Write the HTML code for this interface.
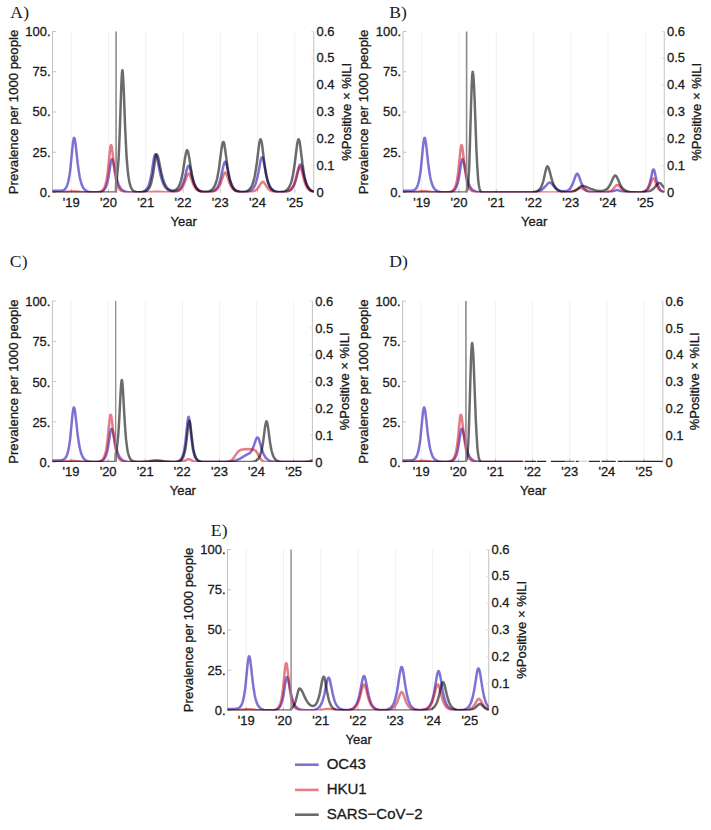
<!DOCTYPE html>
<html><head><meta charset="utf-8"><title>Figure</title>
<style>html,body{margin:0;padding:0;background:#fff;} svg{display:block;}</style>
</head><body>
<svg width="711" height="830" viewBox="0 0 711 830">
<rect width="711" height="830" fill="#fff"/>
<g transform="translate(0,0)">
<clipPath id="clipA"><rect x="52.5" y="31.5" width="261.25" height="161.0"/></clipPath>
<line x1="71.20" y1="31.5" x2="71.20" y2="192.5" stroke="#f1f1f1" stroke-width="1"/>
<line x1="108.48" y1="31.5" x2="108.48" y2="192.5" stroke="#f1f1f1" stroke-width="1"/>
<line x1="145.76" y1="31.5" x2="145.76" y2="192.5" stroke="#f1f1f1" stroke-width="1"/>
<line x1="183.04" y1="31.5" x2="183.04" y2="192.5" stroke="#f1f1f1" stroke-width="1"/>
<line x1="220.32" y1="31.5" x2="220.32" y2="192.5" stroke="#f1f1f1" stroke-width="1"/>
<line x1="257.60" y1="31.5" x2="257.60" y2="192.5" stroke="#f1f1f1" stroke-width="1"/>
<line x1="294.88" y1="31.5" x2="294.88" y2="192.5" stroke="#f1f1f1" stroke-width="1"/>
<line x1="52.5" y1="31.5" x2="52.5" y2="192.5" stroke="#c2c2c2" stroke-width="1"/>
<line x1="313.75" y1="31.5" x2="313.75" y2="192.5" stroke="#c2c2c2" stroke-width="1"/>
<line x1="52.5" y1="192.50" x2="56.0" y2="192.50" stroke="#c2c2c2" stroke-width="1"/>
<line x1="52.5" y1="152.25" x2="56.0" y2="152.25" stroke="#c2c2c2" stroke-width="1"/>
<line x1="52.5" y1="112.00" x2="56.0" y2="112.00" stroke="#c2c2c2" stroke-width="1"/>
<line x1="52.5" y1="71.75" x2="56.0" y2="71.75" stroke="#c2c2c2" stroke-width="1"/>
<line x1="52.5" y1="31.50" x2="56.0" y2="31.50" stroke="#c2c2c2" stroke-width="1"/>
<line x1="311.25" y1="192.50" x2="313.75" y2="192.50" stroke="#dedede" stroke-width="1"/>
<line x1="311.25" y1="165.67" x2="313.75" y2="165.67" stroke="#dedede" stroke-width="1"/>
<line x1="311.25" y1="138.83" x2="313.75" y2="138.83" stroke="#dedede" stroke-width="1"/>
<line x1="311.25" y1="112.00" x2="313.75" y2="112.00" stroke="#dedede" stroke-width="1"/>
<line x1="311.25" y1="85.17" x2="313.75" y2="85.17" stroke="#dedede" stroke-width="1"/>
<line x1="311.25" y1="58.33" x2="313.75" y2="58.33" stroke="#dedede" stroke-width="1"/>
<line x1="311.25" y1="31.50" x2="313.75" y2="31.50" stroke="#dedede" stroke-width="1"/>
<line x1="71.20" y1="192.5" x2="71.20" y2="189.0" stroke="#c2c2c2" stroke-width="1"/>
<line x1="108.48" y1="192.5" x2="108.48" y2="189.0" stroke="#c2c2c2" stroke-width="1"/>
<line x1="145.76" y1="192.5" x2="145.76" y2="189.0" stroke="#c2c2c2" stroke-width="1"/>
<line x1="183.04" y1="192.5" x2="183.04" y2="189.0" stroke="#c2c2c2" stroke-width="1"/>
<line x1="220.32" y1="192.5" x2="220.32" y2="189.0" stroke="#c2c2c2" stroke-width="1"/>
<line x1="257.60" y1="192.5" x2="257.60" y2="189.0" stroke="#c2c2c2" stroke-width="1"/>
<line x1="294.88" y1="192.5" x2="294.88" y2="189.0" stroke="#c2c2c2" stroke-width="1"/>
<g clip-path="url(#clipA)" fill="none" stroke-width="2.5" stroke-linejoin="round" stroke-linecap="butt">
<path d="M50.7,190.9 59.8,190.7 61.5,190.6 62.8,190.4 63.9,189.9 64.5,189.5 65.1,189.0 65.6,188.3 66.0,187.8 66.8,186.3 67.5,184.3 68.3,181.6 69.0,177.9 69.6,174.5 70.2,170.3 70.7,165.4 72.4,147.9 73.0,142.6 73.6,139.0 73.8,138.3 74.0,137.9 74.1,137.8 74.3,138.0 74.7,139.0 75.3,142.0 76.0,147.9 77.7,163.5 78.5,169.4 79.1,173.2 79.6,176.5 80.2,179.2 80.8,181.5 81.5,184.0 82.3,185.9 83.0,187.4 84.0,188.8 84.9,189.8 86.1,190.7 87.4,191.4 88.9,191.8 91.2,192.2 94.0,192.3 97.2,192.3 99.7,192.1 101.4,191.6 102.7,191.0 103.3,190.6 103.8,190.1 104.8,189.0 105.5,187.7 106.3,186.0 107.0,183.7 107.6,181.5 108.2,178.8 108.7,175.7 110.8,162.2 111.4,159.9 111.6,159.4 111.8,159.2 112.0,159.1 112.1,159.2 112.5,159.7 112.9,160.7 113.3,162.0 114.0,165.4 116.1,175.9 116.9,179.1 117.6,181.8 118.6,184.5 119.5,186.5 120.5,188.0 121.6,189.4 122.4,190.0 123.1,190.5 123.9,191.0 124.8,191.4 125.9,191.7 127.1,191.9 129.9,192.3 132.4,192.4 135.0,192.4 137.5,192.3 139.6,192.2 141.1,192.0 142.4,191.7 143.5,191.3 144.5,190.9 145.2,190.4 146.0,189.7 146.7,188.9 147.3,188.1 147.9,187.1 148.4,185.9 149.0,184.4 149.6,182.7 150.5,178.9 151.3,175.1 152.0,170.6 153.5,160.5 154.1,157.3 154.7,155.1 155.1,154.4 155.2,154.3 155.4,154.3 155.6,154.4 156.0,155.0 156.4,155.9 156.8,157.1 157.5,160.3 159.6,170.7 160.7,175.7 161.9,179.8 162.4,181.5 163.2,183.5 163.9,185.1 164.7,186.4 165.5,187.5 166.4,188.6 167.3,189.4 168.5,190.2 169.6,190.7 170.9,191.2 172.5,191.4 174.0,191.5 175.5,191.3 176.8,191.0 177.9,190.5 179.1,189.8 180.0,188.9 181.0,187.7 181.7,186.5 182.5,184.9 183.2,183.0 183.8,181.3 184.7,178.0 186.6,170.3 187.4,167.6 187.8,166.7 188.1,166.0 188.5,165.7 188.7,165.7 188.9,165.8 189.3,166.2 189.7,167.0 190.0,168.1 190.8,170.9 192.7,178.6 193.4,181.3 194.2,183.5 195.0,185.3 195.7,186.8 196.7,188.3 197.6,189.3 198.2,189.8 198.9,190.4 199.7,190.8 200.4,191.2 201.4,191.5 202.3,191.7 204.4,192.0 207.2,192.1 209.9,191.9 211.0,191.7 212.2,191.5 213.1,191.1 213.9,190.7 214.6,190.3 215.4,189.7 216.1,188.9 216.7,188.3 217.3,187.4 217.8,186.5 218.4,185.3 219.0,184.0 219.9,181.2 220.9,177.7 221.6,174.4 223.1,167.1 223.9,164.1 224.3,162.9 224.6,162.1 225.0,161.7 225.2,161.7 225.4,161.7 225.8,162.2 226.1,163.1 226.5,164.3 227.3,167.5 229.4,177.2 230.1,180.1 230.7,182.0 231.4,184.1 232.2,185.9 233.0,187.2 233.9,188.6 235.0,189.8 236.4,190.7 237.9,191.3 239.8,191.8 242.2,192.1 244.9,192.1 246.2,191.9 247.3,191.8 248.3,191.6 249.2,191.2 250.2,190.8 251.1,190.3 252.0,189.5 252.8,188.7 253.6,187.7 254.1,186.8 254.9,185.3 255.5,183.9 256.0,182.3 256.6,180.4 257.5,176.6 258.5,171.9 260.2,162.7 260.7,160.1 261.1,158.7 261.5,157.7 261.9,157.2 262.1,157.2 262.3,157.2 262.6,157.7 263.0,158.7 263.4,160.0 264.1,163.6 265.7,171.9 266.4,175.6 267.4,179.6 268.3,182.8 268.9,184.3 269.4,185.7 270.0,186.8 270.6,187.7 271.1,188.5 271.9,189.3 272.5,189.8 273.2,190.4 274.0,190.8 274.9,191.3 276.1,191.6 277.2,191.9 278.5,192.1 280.0,192.2 283.2,192.2 285.9,191.9 287.0,191.7 288.0,191.4 288.9,191.0 289.7,190.6 290.4,190.1 291.2,189.5 292.1,188.5 293.1,187.1 294.0,185.3 294.8,183.4 295.5,181.2 296.3,178.5 298.4,169.6 299.1,166.8 299.5,165.7 299.9,164.9 300.3,164.5 300.4,164.4 300.6,164.4 301.0,164.8 301.4,165.6 301.8,166.6 302.3,168.7 304.2,176.8 305.2,180.4 306.3,183.8 306.9,185.2 307.4,186.3 308.2,187.6 309.0,188.7 309.7,189.5 310.7,190.2 311.6,190.8 312.7,191.3 314.1,191.7 315.4,192.0" stroke="#1600b2" stroke-opacity="0.555"/>
<path d="M50.7,192.5 56.9,192.4 61.5,192.3 65.1,192.1 70.7,191.6 73.0,191.5 75.3,191.6 81.3,192.1 85.3,192.3 91.0,192.4 95.5,192.4 98.0,192.2 99.7,191.9 101.0,191.4 102.1,190.7 102.9,190.0 103.4,189.3 104.0,188.4 104.6,187.2 105.1,185.7 105.5,184.4 106.1,182.1 106.5,180.3 107.2,175.6 107.8,171.2 110.1,149.1 110.4,146.6 110.6,145.8 110.8,145.3 111.0,145.1 111.2,145.2 111.4,145.6 111.6,146.2 112.0,148.1 112.5,152.4 114.0,166.1 114.8,172.1 115.7,178.1 116.3,180.9 116.9,183.2 117.4,185.0 118.2,186.9 118.9,188.4 119.7,189.4 120.6,190.4 121.6,191.0 122.7,191.6 123.9,191.9 125.2,192.1 126.9,192.3 131.8,192.5 138.6,192.4 144.7,192.3 148.8,192.2 154.7,191.8 156.8,191.8 159.2,191.8 165.8,192.2 169.8,192.3 171.9,192.2 173.8,192.1 175.5,191.9 176.8,191.6 177.7,191.2 178.5,190.9 179.8,190.1 180.6,189.5 181.1,188.9 182.3,187.5 183.2,185.8 184.2,183.7 185.1,181.2 186.6,176.8 187.4,174.9 187.8,174.3 188.1,173.8 188.5,173.6 188.7,173.6 188.9,173.6 189.3,174.0 189.7,174.5 190.0,175.3 190.8,177.3 192.7,182.7 193.4,184.6 194.2,186.1 195.0,187.4 195.7,188.5 196.5,189.3 197.2,190.0 198.4,190.7 199.7,191.3 201.0,191.7 202.7,192.0 205.0,192.2 207.6,192.2 209.9,192.1 212.0,191.9 213.1,191.6 214.0,191.3 215.0,190.9 215.7,190.4 216.5,189.9 217.1,189.4 217.8,188.6 218.4,187.8 219.5,185.9 220.7,183.4 221.6,180.7 223.1,176.0 223.9,174.0 224.3,173.3 224.6,172.7 225.0,172.5 225.2,172.5 225.4,172.5 225.8,172.8 226.1,173.4 226.5,174.2 227.1,175.7 228.8,180.9 229.5,183.0 230.5,185.3 231.4,187.1 232.6,188.7 233.7,189.8 235.0,190.7 235.8,191.1 236.7,191.5 238.4,191.9 240.3,192.1 242.8,192.3 245.6,192.3 248.3,192.3 250.3,192.1 252.2,191.7 253.7,191.3 254.7,190.9 255.6,190.3 256.4,189.7 257.2,189.0 257.9,188.1 258.7,187.1 260.7,183.7 261.5,182.7 261.9,182.2 262.3,182.0 262.8,181.8 263.4,182.0 263.8,182.3 264.1,182.7 264.9,183.8 267.0,187.1 268.3,188.8 269.1,189.6 269.8,190.2 270.6,190.7 271.3,191.0 272.5,191.5 273.8,191.8 275.1,192.0 276.8,192.2 278.9,192.3 281.2,192.3 283.2,192.2 284.9,192.0 286.3,191.7 287.4,191.4 288.5,191.0 289.5,190.5 290.4,189.8 291.2,189.0 291.9,188.1 292.7,186.9 293.3,185.9 293.8,184.6 295.0,181.5 295.9,178.3 297.6,171.5 298.4,168.9 298.7,167.8 299.1,167.1 299.5,166.7 299.7,166.7 299.9,166.7 300.3,167.0 300.6,167.7 301.0,168.7 301.6,170.5 303.5,178.0 304.4,181.3 305.6,184.5 306.1,185.7 306.9,187.1 307.6,188.3 308.4,189.2 309.3,190.0 310.3,190.7 311.4,191.2 312.5,191.6 313.9,191.9 315.4,192.1" stroke="#cd0519" stroke-opacity="0.52"/>
<path d="M50.7,192.5 115.9,192.5 116.1,182.7 116.9,178.1 117.6,171.3 118.2,164.2 118.8,155.0 119.3,143.2 119.7,133.8 121.2,88.5 121.6,78.9 122.0,72.5 122.2,70.8 122.4,70.2 122.5,70.7 122.7,72.0 122.9,74.1 123.3,80.4 123.9,93.8 125.0,124.1 125.8,141.6 126.5,155.4 126.9,160.9 127.5,167.8 128.0,173.3 128.6,177.5 129.2,180.9 129.9,184.2 130.7,186.6 131.0,187.5 131.6,188.6 132.2,189.5 132.7,190.2 133.3,190.7 133.9,191.1 134.6,191.5 135.6,191.8 136.5,192.0 137.7,192.2 139.2,192.3 140.7,192.3 142.2,192.2 143.5,192.0 145.2,191.5 146.0,191.2 146.7,190.7 147.9,189.8 148.4,189.1 149.0,188.3 149.8,186.9 150.5,185.0 151.3,182.6 151.8,180.3 152.6,176.6 153.2,173.2 154.9,161.2 155.4,157.6 156.0,155.1 156.2,154.7 156.4,154.4 156.6,154.3 156.8,154.3 156.9,154.5 157.3,155.0 157.7,156.0 158.3,157.9 159.0,161.3 161.3,172.5 162.1,175.8 162.8,178.6 163.4,180.4 164.1,182.6 164.7,183.9 165.5,185.4 166.6,187.2 167.7,188.5 168.3,189.0 169.0,189.5 170.4,190.2 171.1,190.4 171.9,190.6 172.6,190.6 173.4,190.6 174.2,190.4 174.9,190.2 175.7,189.8 176.2,189.4 177.0,188.8 177.6,188.1 178.3,187.1 178.9,186.1 179.4,184.9 180.0,183.5 181.0,180.6 181.9,176.8 182.9,172.0 183.6,167.4 185.1,157.5 185.9,153.4 186.3,151.8 186.6,150.8 186.8,150.4 187.0,150.3 187.2,150.2 187.4,150.3 187.8,151.0 188.1,152.3 188.5,153.9 189.3,158.3 191.2,170.5 191.9,174.7 192.7,178.2 193.4,181.1 194.2,183.5 195.0,185.3 195.7,186.8 196.3,187.8 196.8,188.5 197.4,189.2 198.2,189.9 198.9,190.4 199.7,190.8 200.4,191.2 201.4,191.5 202.5,191.7 203.6,191.8 205.0,191.9 206.3,191.8 207.4,191.7 208.6,191.4 209.5,191.1 210.5,190.7 211.4,190.1 212.3,189.3 213.3,188.2 214.0,187.0 214.8,185.6 215.4,184.3 216.1,182.1 216.7,180.1 217.3,177.8 217.8,175.1 218.8,169.6 219.7,162.9 221.4,149.7 222.0,145.9 222.4,144.0 222.7,142.6 222.9,142.2 223.1,141.9 223.3,141.9 223.5,142.0 223.7,142.2 223.9,142.7 224.3,144.1 224.6,146.0 225.4,151.2 227.5,167.1 228.2,172.0 228.8,175.1 229.5,178.7 230.3,181.5 231.1,183.8 231.8,185.6 232.4,186.7 233.0,187.7 233.5,188.5 234.3,189.3 234.8,189.8 235.6,190.4 236.4,190.8 237.3,191.2 238.4,191.5 239.6,191.8 240.7,191.9 242.0,191.9 243.4,191.9 244.7,191.7 245.8,191.4 246.8,191.1 247.9,190.5 249.0,189.7 250.0,188.7 250.9,187.5 251.7,186.1 252.4,184.4 253.2,182.3 253.7,180.3 254.3,178.0 254.9,175.3 256.0,168.6 257.0,161.7 258.7,147.7 259.2,143.8 259.6,141.7 260.0,140.2 260.4,139.4 260.6,139.3 260.7,139.4 260.9,139.6 261.3,140.7 261.7,142.4 262.1,144.6 262.6,148.8 264.7,165.6 265.5,170.7 266.0,174.1 266.8,177.8 267.6,180.8 268.3,183.3 269.1,185.2 269.6,186.4 270.2,187.4 270.8,188.2 271.3,188.9 271.9,189.5 272.7,190.1 273.4,190.6 274.4,191.1 275.3,191.4 276.4,191.7 277.8,191.9 279.1,192.0 280.4,192.0 281.7,191.8 282.9,191.7 284.0,191.4 285.3,190.8 286.5,190.2 287.6,189.2 288.5,188.1 289.5,186.5 290.2,184.9 291.0,182.9 291.6,181.1 292.1,178.9 292.7,176.4 293.8,170.0 294.8,163.3 296.5,149.4 297.2,143.9 297.6,141.8 298.0,140.3 298.4,139.4 298.6,139.3 298.7,139.3 298.9,139.6 299.1,140.0 299.5,141.3 299.9,143.3 300.6,148.6 302.5,164.0 303.5,170.6 304.0,173.9 304.8,177.7 305.4,180.1 306.1,182.6 306.9,184.7 307.8,186.7 308.8,188.2 309.7,189.3 310.8,190.3 312.2,191.0 313.7,191.6 315.4,192.0" stroke="#000000" stroke-opacity="0.58"/>
</g>
<line x1="116.09" y1="31.5" x2="116.09" y2="192.5" stroke="#8c8c8c" stroke-width="1.6"/>
<g font-family='"Liberation Sans", Arial, sans-serif' font-size="13" fill="#1a1a1a" stroke="#1a1a1a" stroke-width="0.3">
<text x="50.5" y="35.90" text-anchor="end">100.</text>
<text x="50.5" y="76.15" text-anchor="end">75.</text>
<text x="50.5" y="116.40" text-anchor="end">50.</text>
<text x="50.5" y="156.65" text-anchor="end">25.</text>
<text x="50.5" y="196.90" text-anchor="end">0.</text>
<text x="316.5" y="196.60">0</text>
<text x="316.5" y="169.77">0.1</text>
<text x="316.5" y="142.93">0.2</text>
<text x="316.5" y="116.10">0.3</text>
<text x="316.5" y="89.27">0.4</text>
<text x="316.5" y="62.43">0.5</text>
<text x="316.5" y="35.60">0.6</text>
<text x="71.20" y="206.7" text-anchor="middle">'19</text>
<text x="108.48" y="206.7" text-anchor="middle">'20</text>
<text x="145.76" y="206.7" text-anchor="middle">'21</text>
<text x="183.04" y="206.7" text-anchor="middle">'22</text>
<text x="220.32" y="206.7" text-anchor="middle">'23</text>
<text x="257.60" y="206.7" text-anchor="middle">'24</text>
<text x="294.88" y="206.7" text-anchor="middle">'25</text>
<text x="183.6" y="226.00" text-anchor="middle">Year</text>
<text transform="translate(17.5,112.0) rotate(-90)" text-anchor="middle" font-size="13.15">Prevalence per 1000 people</text>
<text transform="translate(350.5,111.8) rotate(-90)" text-anchor="middle">%Positive × %ILI</text>
</g>
</g>
<text x="10.3" y="18.3" font-family='"Liberation Serif", "Times New Roman", serif' font-size="17.6" fill="#1a1a1a" letter-spacing="0.2">A)</text>
<g transform="translate(350.5,0)">
<clipPath id="clipB"><rect x="52.5" y="31.5" width="261.25" height="161.0"/></clipPath>
<line x1="71.20" y1="31.5" x2="71.20" y2="192.5" stroke="#f1f1f1" stroke-width="1"/>
<line x1="108.48" y1="31.5" x2="108.48" y2="192.5" stroke="#f1f1f1" stroke-width="1"/>
<line x1="145.76" y1="31.5" x2="145.76" y2="192.5" stroke="#f1f1f1" stroke-width="1"/>
<line x1="183.04" y1="31.5" x2="183.04" y2="192.5" stroke="#f1f1f1" stroke-width="1"/>
<line x1="220.32" y1="31.5" x2="220.32" y2="192.5" stroke="#f1f1f1" stroke-width="1"/>
<line x1="257.60" y1="31.5" x2="257.60" y2="192.5" stroke="#f1f1f1" stroke-width="1"/>
<line x1="294.88" y1="31.5" x2="294.88" y2="192.5" stroke="#f1f1f1" stroke-width="1"/>
<line x1="52.5" y1="31.5" x2="52.5" y2="192.5" stroke="#c2c2c2" stroke-width="1"/>
<line x1="313.75" y1="31.5" x2="313.75" y2="192.5" stroke="#c2c2c2" stroke-width="1"/>
<line x1="52.5" y1="192.50" x2="56.0" y2="192.50" stroke="#c2c2c2" stroke-width="1"/>
<line x1="52.5" y1="152.25" x2="56.0" y2="152.25" stroke="#c2c2c2" stroke-width="1"/>
<line x1="52.5" y1="112.00" x2="56.0" y2="112.00" stroke="#c2c2c2" stroke-width="1"/>
<line x1="52.5" y1="71.75" x2="56.0" y2="71.75" stroke="#c2c2c2" stroke-width="1"/>
<line x1="52.5" y1="31.50" x2="56.0" y2="31.50" stroke="#c2c2c2" stroke-width="1"/>
<line x1="311.25" y1="192.50" x2="313.75" y2="192.50" stroke="#dedede" stroke-width="1"/>
<line x1="311.25" y1="165.67" x2="313.75" y2="165.67" stroke="#dedede" stroke-width="1"/>
<line x1="311.25" y1="138.83" x2="313.75" y2="138.83" stroke="#dedede" stroke-width="1"/>
<line x1="311.25" y1="112.00" x2="313.75" y2="112.00" stroke="#dedede" stroke-width="1"/>
<line x1="311.25" y1="85.17" x2="313.75" y2="85.17" stroke="#dedede" stroke-width="1"/>
<line x1="311.25" y1="58.33" x2="313.75" y2="58.33" stroke="#dedede" stroke-width="1"/>
<line x1="311.25" y1="31.50" x2="313.75" y2="31.50" stroke="#dedede" stroke-width="1"/>
<line x1="71.20" y1="192.5" x2="71.20" y2="189.0" stroke="#c2c2c2" stroke-width="1"/>
<line x1="108.48" y1="192.5" x2="108.48" y2="189.0" stroke="#c2c2c2" stroke-width="1"/>
<line x1="145.76" y1="192.5" x2="145.76" y2="189.0" stroke="#c2c2c2" stroke-width="1"/>
<line x1="183.04" y1="192.5" x2="183.04" y2="189.0" stroke="#c2c2c2" stroke-width="1"/>
<line x1="220.32" y1="192.5" x2="220.32" y2="189.0" stroke="#c2c2c2" stroke-width="1"/>
<line x1="257.60" y1="192.5" x2="257.60" y2="189.0" stroke="#c2c2c2" stroke-width="1"/>
<line x1="294.88" y1="192.5" x2="294.88" y2="189.0" stroke="#c2c2c2" stroke-width="1"/>
<g clip-path="url(#clipB)" fill="none" stroke-width="2.5" stroke-linejoin="round" stroke-linecap="butt">
<path d="M50.7,190.9 59.8,190.7 61.5,190.6 62.8,190.4 63.9,189.9 64.5,189.5 65.1,189.0 65.6,188.3 66.0,187.8 66.8,186.3 67.5,184.3 68.3,181.6 69.0,177.9 69.6,174.5 70.2,170.3 70.7,165.4 72.4,147.9 73.0,142.6 73.6,139.0 73.8,138.3 74.0,137.9 74.1,137.8 74.3,138.0 74.7,139.0 75.3,142.0 76.0,147.9 77.7,163.5 78.5,169.4 79.1,173.2 79.6,176.5 80.2,179.2 80.8,181.5 81.5,184.0 82.3,185.9 83.0,187.4 84.0,188.8 84.9,189.8 86.1,190.7 87.4,191.4 88.9,191.8 91.2,192.2 94.0,192.3 97.2,192.3 99.7,192.1 101.4,191.6 102.7,191.0 103.3,190.6 103.8,190.1 104.8,189.0 105.5,187.7 106.3,186.0 107.0,183.7 107.6,181.5 108.2,178.8 108.7,175.7 110.8,162.2 111.4,159.9 111.6,159.4 111.8,159.2 112.0,159.1 112.1,159.2 112.5,159.7 113.1,161.3 113.8,164.5 115.7,174.2 116.7,178.4 117.8,182.4 118.4,184.0 119.1,185.7 119.9,187.2 120.6,188.3 121.4,189.2 122.4,190.0 123.3,190.7 124.4,191.2 125.8,191.7 127.3,192.0 130.1,192.3 134.1,192.4 154.7,192.5 176.2,192.4 181.0,192.3 184.4,192.0 186.4,191.6 188.1,191.2 189.7,190.6 191.2,189.8 192.5,188.8 193.6,187.7 194.6,186.7 196.7,184.3 197.4,183.5 198.4,182.8 198.9,182.6 199.3,182.6 200.1,182.8 200.4,183.0 201.0,183.5 201.9,184.4 204.0,186.9 205.2,188.0 206.5,189.2 207.8,190.0 209.5,190.7 210.5,191.0 211.4,191.2 213.3,191.3 215.0,191.1 216.5,190.7 217.3,190.4 218.0,189.9 219.2,188.9 220.3,187.5 221.2,185.9 222.2,183.9 223.1,181.4 224.8,176.6 225.4,175.2 225.8,174.5 226.1,174.0 226.5,173.7 226.7,173.7 226.9,173.8 227.3,174.0 227.7,174.6 228.0,175.3 228.6,176.7 230.3,181.6 231.1,183.6 232.0,185.7 233.0,187.4 234.1,188.9 234.7,189.5 235.4,190.1 236.7,190.9 237.5,191.3 238.4,191.6 239.8,191.9 241.1,192.1 244.5,192.4 250.7,192.5 256.4,192.3 258.9,192.1 260.9,191.8 262.6,191.3 265.3,190.3 266.0,190.1 266.6,190.1 267.2,190.1 267.9,190.3 270.6,191.3 271.9,191.7 273.4,192.0 275.3,192.2 278.7,192.4 284.0,192.5 288.2,192.4 290.8,192.2 291.9,192.0 293.1,191.7 294.0,191.4 294.8,191.0 295.5,190.4 296.3,189.6 296.9,188.9 297.4,187.9 298.4,185.8 299.3,182.9 300.1,179.9 301.6,172.9 302.1,170.8 302.5,169.8 302.7,169.6 302.9,169.4 303.1,169.4 303.3,169.5 303.7,170.2 304.2,172.1 305.9,179.8 306.9,183.5 307.6,185.8 308.6,187.9 309.1,188.9 309.7,189.6 310.5,190.4 311.2,190.9 312.0,191.4 312.9,191.7 314.1,192.0 315.4,192.2" stroke="#1600b2" stroke-opacity="0.555"/>
<path d="M50.7,192.5 56.9,192.4 61.5,192.2 65.1,191.9 70.7,191.3 73.0,191.2 75.3,191.3 81.1,191.9 85.1,192.2 90.6,192.4 95.5,192.4 97.8,192.2 99.5,191.9 100.2,191.7 101.0,191.4 102.1,190.7 102.9,190.0 103.4,189.3 104.0,188.4 104.6,187.2 105.1,185.7 105.5,184.4 106.1,182.1 106.5,180.3 107.2,175.6 107.8,171.2 110.1,149.1 110.4,146.6 110.6,145.8 110.8,145.3 111.0,145.1 111.2,145.2 111.4,145.6 111.6,146.2 112.0,148.1 112.5,152.4 114.0,166.1 114.8,172.1 115.7,178.1 116.3,180.9 116.9,183.2 117.4,185.0 118.2,186.9 118.9,188.4 119.7,189.4 120.6,190.4 121.6,191.0 122.7,191.6 123.9,191.9 125.4,192.2 127.3,192.3 129.9,192.4 133.7,192.5 202.3,192.5 209.7,192.5 214.0,192.4 216.5,192.2 218.6,192.0 220.3,191.8 221.8,191.4 223.1,190.9 224.3,190.4 228.0,188.3 228.8,188.0 229.5,187.9 230.3,188.0 231.3,188.3 234.5,190.2 236.0,190.9 237.5,191.4 239.2,191.8 241.8,192.2 245.1,192.3 249.4,192.4 253.4,192.3 255.6,192.1 257.5,191.8 259.0,191.4 260.4,190.8 261.5,190.1 262.4,189.2 263.2,188.4 264.9,186.3 265.7,185.5 266.0,185.2 266.4,185.0 267.0,184.9 267.6,185.0 268.3,185.6 270.8,188.6 272.1,189.9 273.4,190.8 274.2,191.2 275.1,191.5 276.2,191.8 277.4,192.0 280.4,192.3 285.5,192.4 289.9,192.3 292.1,192.0 293.1,191.8 294.0,191.5 294.8,191.2 295.5,190.8 296.3,190.2 296.9,189.6 297.4,189.0 298.0,188.1 298.9,186.4 299.7,184.6 301.2,180.6 301.8,179.3 302.3,178.5 302.7,178.3 302.9,178.3 303.3,178.5 303.9,179.3 304.4,180.6 305.9,184.6 306.7,186.3 307.6,188.1 308.6,189.4 309.1,190.0 309.7,190.5 310.5,191.0 311.2,191.4 312.2,191.7 313.1,191.9 315.4,192.3" stroke="#cd0519" stroke-opacity="0.52"/>
<path d="M50.7,192.5 115.9,192.5 116.1,191.3 116.5,190.3 116.9,188.9 117.4,185.2 118.0,178.8 118.4,172.5 118.8,164.5 119.3,148.9 120.6,102.8 121.2,85.4 121.6,77.1 121.8,74.4 122.0,72.6 122.2,71.9 122.4,72.0 122.5,72.9 122.7,74.3 123.1,78.9 123.5,85.6 124.1,98.7 125.9,149.4 126.7,165.2 127.3,174.2 127.6,178.8 128.0,182.5 128.4,185.3 128.8,187.5 129.2,189.0 129.7,190.6 130.3,191.5 130.9,192.0 131.4,192.3 132.0,192.4 133.9,192.5 176.0,192.5 179.8,192.4 182.5,192.2 184.4,191.9 186.1,191.4 186.8,191.1 187.6,190.6 188.3,190.1 188.9,189.5 189.5,188.9 190.0,188.1 190.6,187.1 191.2,185.9 192.1,183.4 192.9,180.8 193.6,177.7 195.1,170.8 195.7,168.6 196.3,167.0 196.7,166.4 196.8,166.3 197.0,166.4 197.2,166.4 197.6,166.9 198.0,167.6 198.4,168.6 198.9,170.4 200.8,177.6 201.8,180.8 202.9,183.9 204.0,186.3 204.6,187.3 205.3,188.3 206.1,189.1 207.1,190.0 208.0,190.6 208.9,191.0 210.1,191.4 211.4,191.8 212.7,192.0 214.2,192.1 217.4,192.2 220.5,192.0 221.8,191.7 222.9,191.5 224.4,190.9 225.8,190.2 227.3,189.1 229.9,186.6 230.7,186.2 231.4,186.0 233.0,186.1 234.7,186.5 236.2,187.1 239.8,188.6 241.6,189.3 243.7,190.0 245.6,190.4 247.9,190.8 250.0,190.9 251.9,190.8 253.6,190.4 254.9,189.9 256.2,189.1 257.3,188.1 258.3,186.9 259.2,185.5 260.2,183.7 262.4,178.6 263.2,177.1 263.6,176.4 264.0,176.0 264.3,175.7 264.7,175.5 265.1,175.6 265.5,175.8 265.8,176.3 266.2,176.8 267.0,178.3 268.7,182.3 269.6,184.4 270.6,186.1 271.7,187.8 272.8,189.0 274.2,190.1 275.7,190.9 277.4,191.5 279.3,191.9 281.5,192.2 284.4,192.3 287.8,192.4 291.2,192.3 293.8,192.1 296.1,191.9 298.0,191.4 299.1,191.1 300.3,190.6 301.2,190.0 302.1,189.4 302.9,188.7 303.9,187.7 306.3,184.7 307.1,183.9 307.6,183.4 308.0,183.1 308.4,183.0 308.8,182.9 309.1,183.0 309.5,183.1 309.9,183.3 310.5,183.8 311.2,184.7 313.7,187.7 314.6,188.7 315.4,189.3" stroke="#000000" stroke-opacity="0.58"/>
</g>
<line x1="116.09" y1="31.5" x2="116.09" y2="192.5" stroke="#8c8c8c" stroke-width="1.6"/>
<g font-family='"Liberation Sans", Arial, sans-serif' font-size="13" fill="#1a1a1a" stroke="#1a1a1a" stroke-width="0.3">
<text x="50.5" y="35.90" text-anchor="end">100.</text>
<text x="50.5" y="76.15" text-anchor="end">75.</text>
<text x="50.5" y="116.40" text-anchor="end">50.</text>
<text x="50.5" y="156.65" text-anchor="end">25.</text>
<text x="50.5" y="196.90" text-anchor="end">0.</text>
<text x="316.5" y="196.60">0</text>
<text x="316.5" y="169.77">0.1</text>
<text x="316.5" y="142.93">0.2</text>
<text x="316.5" y="116.10">0.3</text>
<text x="316.5" y="89.27">0.4</text>
<text x="316.5" y="62.43">0.5</text>
<text x="316.5" y="35.60">0.6</text>
<text x="71.20" y="206.7" text-anchor="middle">'19</text>
<text x="108.48" y="206.7" text-anchor="middle">'20</text>
<text x="145.76" y="206.7" text-anchor="middle">'21</text>
<text x="183.04" y="206.7" text-anchor="middle">'22</text>
<text x="220.32" y="206.7" text-anchor="middle">'23</text>
<text x="257.60" y="206.7" text-anchor="middle">'24</text>
<text x="294.88" y="206.7" text-anchor="middle">'25</text>
<text x="183.6" y="226.00" text-anchor="middle">Year</text>
<text transform="translate(17.5,112.0) rotate(-90)" text-anchor="middle" font-size="13.15">Prevalence per 1000 people</text>
<text transform="translate(350.5,111.8) rotate(-90)" text-anchor="middle">%Positive × %ILI</text>
</g>
</g>
<text x="389.2" y="18.3" font-family='"Liberation Serif", "Times New Roman", serif' font-size="17.6" fill="#1a1a1a" letter-spacing="0.2">B)</text>
<g transform="translate(-0.1,269.6) translate(52.5,0) scale(0.9952,1) translate(-52.5,0)">
<clipPath id="clipC"><rect x="52.5" y="31.5" width="261.25" height="161.0"/></clipPath>
<line x1="71.20" y1="31.5" x2="71.20" y2="192.5" stroke="#f1f1f1" stroke-width="1"/>
<line x1="108.48" y1="31.5" x2="108.48" y2="192.5" stroke="#f1f1f1" stroke-width="1"/>
<line x1="145.76" y1="31.5" x2="145.76" y2="192.5" stroke="#f1f1f1" stroke-width="1"/>
<line x1="183.04" y1="31.5" x2="183.04" y2="192.5" stroke="#f1f1f1" stroke-width="1"/>
<line x1="220.32" y1="31.5" x2="220.32" y2="192.5" stroke="#f1f1f1" stroke-width="1"/>
<line x1="257.60" y1="31.5" x2="257.60" y2="192.5" stroke="#f1f1f1" stroke-width="1"/>
<line x1="294.88" y1="31.5" x2="294.88" y2="192.5" stroke="#f1f1f1" stroke-width="1"/>
<line x1="52.5" y1="31.5" x2="52.5" y2="192.5" stroke="#c2c2c2" stroke-width="1"/>
<line x1="313.75" y1="31.5" x2="313.75" y2="192.5" stroke="#c2c2c2" stroke-width="1"/>
<line x1="52.5" y1="192.50" x2="56.0" y2="192.50" stroke="#c2c2c2" stroke-width="1"/>
<line x1="52.5" y1="152.25" x2="56.0" y2="152.25" stroke="#c2c2c2" stroke-width="1"/>
<line x1="52.5" y1="112.00" x2="56.0" y2="112.00" stroke="#c2c2c2" stroke-width="1"/>
<line x1="52.5" y1="71.75" x2="56.0" y2="71.75" stroke="#c2c2c2" stroke-width="1"/>
<line x1="52.5" y1="31.50" x2="56.0" y2="31.50" stroke="#c2c2c2" stroke-width="1"/>
<line x1="311.25" y1="192.50" x2="313.75" y2="192.50" stroke="#dedede" stroke-width="1"/>
<line x1="311.25" y1="165.67" x2="313.75" y2="165.67" stroke="#dedede" stroke-width="1"/>
<line x1="311.25" y1="138.83" x2="313.75" y2="138.83" stroke="#dedede" stroke-width="1"/>
<line x1="311.25" y1="112.00" x2="313.75" y2="112.00" stroke="#dedede" stroke-width="1"/>
<line x1="311.25" y1="85.17" x2="313.75" y2="85.17" stroke="#dedede" stroke-width="1"/>
<line x1="311.25" y1="58.33" x2="313.75" y2="58.33" stroke="#dedede" stroke-width="1"/>
<line x1="311.25" y1="31.50" x2="313.75" y2="31.50" stroke="#dedede" stroke-width="1"/>
<line x1="71.20" y1="192.5" x2="71.20" y2="189.0" stroke="#c2c2c2" stroke-width="1"/>
<line x1="108.48" y1="192.5" x2="108.48" y2="189.0" stroke="#c2c2c2" stroke-width="1"/>
<line x1="145.76" y1="192.5" x2="145.76" y2="189.0" stroke="#c2c2c2" stroke-width="1"/>
<line x1="183.04" y1="192.5" x2="183.04" y2="189.0" stroke="#c2c2c2" stroke-width="1"/>
<line x1="220.32" y1="192.5" x2="220.32" y2="189.0" stroke="#c2c2c2" stroke-width="1"/>
<line x1="257.60" y1="192.5" x2="257.60" y2="189.0" stroke="#c2c2c2" stroke-width="1"/>
<line x1="294.88" y1="192.5" x2="294.88" y2="189.0" stroke="#c2c2c2" stroke-width="1"/>
<g clip-path="url(#clipC)" fill="none" stroke-width="2.5" stroke-linejoin="round" stroke-linecap="butt">
<path d="M50.7,190.9 59.8,190.7 61.5,190.6 62.8,190.4 63.9,189.9 64.5,189.5 65.1,189.0 65.6,188.3 66.0,187.8 66.8,186.3 67.5,184.3 68.3,181.6 69.0,177.9 69.6,174.5 70.2,170.3 70.7,165.4 72.4,147.9 73.0,142.6 73.6,139.0 73.8,138.3 74.0,137.9 74.1,137.8 74.3,138.0 74.7,139.0 75.3,142.0 76.0,147.9 77.7,163.5 78.5,169.4 79.1,173.2 79.6,176.5 80.2,179.2 80.8,181.5 81.5,184.0 82.3,185.9 83.0,187.4 84.0,188.8 84.9,189.8 86.1,190.7 87.4,191.4 88.9,191.8 91.2,192.2 94.0,192.3 97.2,192.3 99.7,192.1 101.4,191.6 102.7,191.0 103.3,190.6 103.8,190.1 104.8,189.0 105.5,187.7 106.3,186.0 107.0,183.7 107.6,181.5 108.2,178.8 108.7,175.7 110.8,162.2 111.4,159.9 111.6,159.4 111.8,159.2 112.0,159.1 112.1,159.2 112.5,159.7 112.9,160.7 113.3,162.0 113.8,164.5 115.5,173.2 116.3,176.8 117.2,180.5 118.2,183.5 118.8,184.9 119.3,186.1 119.9,187.2 120.6,188.3 121.4,189.2 122.2,189.9 122.9,190.4 123.9,191.0 124.8,191.4 125.8,191.7 126.9,191.9 128.2,192.1 131.4,192.4 136.2,192.5 164.1,192.5 172.6,192.4 175.1,192.3 176.8,192.2 178.1,191.9 179.3,191.5 180.2,191.0 181.0,190.4 181.7,189.6 182.5,188.4 183.0,187.2 183.6,185.7 184.2,183.8 184.6,182.2 185.3,178.2 186.1,173.0 186.8,166.4 188.0,155.1 188.5,150.4 188.9,148.2 189.1,147.6 189.3,147.2 189.5,147.2 189.7,147.5 189.8,148.1 190.2,150.2 190.8,154.8 191.9,166.1 192.7,172.7 193.4,178.1 193.8,180.2 194.4,182.9 195.0,185.0 195.5,186.7 196.1,188.0 196.7,189.0 197.4,190.0 198.2,190.7 198.9,191.2 199.9,191.7 201.0,192.0 202.3,192.2 203.8,192.4 205.9,192.4 216.9,192.5 225.6,192.3 229.9,192.0 233.3,191.6 236.2,191.0 237.5,190.6 238.8,190.1 241.1,189.0 246.0,186.1 249.8,184.1 250.7,183.5 251.7,182.6 252.2,181.8 252.8,181.0 253.4,179.9 253.9,178.7 254.9,176.2 256.8,170.5 257.3,169.2 257.9,168.2 258.3,167.8 258.5,167.8 258.9,167.8 259.2,168.2 259.6,168.8 260.0,169.7 260.7,172.0 262.4,178.0 263.4,181.1 264.3,183.6 265.3,185.6 266.4,187.5 267.6,188.9 268.1,189.4 268.9,190.0 269.6,190.5 270.6,191.0 272.3,191.6 274.2,191.9 276.6,192.2 279.7,192.4 288.2,192.5 315.4,192.5" stroke="#1600b2" stroke-opacity="0.555"/>
<path d="M50.7,192.5 56.9,192.4 61.5,192.2 65.1,191.9 70.7,191.3 73.0,191.2 75.3,191.3 81.1,191.9 85.1,192.2 90.6,192.4 95.5,192.4 97.8,192.2 99.5,191.9 100.2,191.7 101.0,191.4 102.1,190.7 102.9,190.0 103.4,189.3 104.0,188.4 104.6,187.2 105.1,185.6 105.5,184.4 106.1,182.1 106.5,180.3 107.2,175.6 107.8,171.2 110.1,149.1 110.4,146.6 110.6,145.8 110.8,145.3 111.0,145.1 111.2,145.2 111.4,145.6 111.6,146.2 112.0,148.1 112.5,152.4 114.0,166.1 114.8,172.1 115.7,178.1 116.3,180.9 116.9,183.2 117.4,185.0 118.2,186.9 118.9,188.4 119.7,189.4 120.6,190.4 121.6,191.0 122.7,191.6 123.9,191.9 125.2,192.1 126.7,192.3 131.4,192.5 138.4,192.4 144.5,192.3 148.6,192.2 154.7,191.8 156.9,191.7 159.2,191.8 165.1,192.1 169.0,192.3 174.5,192.4 178.9,192.4 181.7,192.2 182.9,192.0 184.0,191.8 185.7,191.2 188.3,189.8 188.9,189.6 189.5,189.6 190.0,189.7 190.6,189.9 192.9,191.1 194.4,191.7 196.1,192.1 198.4,192.3 203.5,192.5 216.5,192.5 224.1,192.5 227.7,192.3 229.4,192.1 230.7,191.7 231.8,191.1 233.0,190.3 233.7,189.5 234.7,188.3 237.3,184.3 238.4,182.8 239.6,181.6 240.7,180.8 242.0,180.2 243.7,179.8 246.0,179.6 249.2,179.5 251.9,179.6 253.7,179.8 254.5,180.0 255.3,180.3 255.8,180.6 256.4,181.0 257.3,181.9 258.1,182.9 259.0,184.5 260.9,188.1 261.7,189.3 262.3,190.0 263.0,190.8 263.8,191.4 264.7,191.8 265.8,192.2 267.9,192.4 271.5,192.5 315.4,192.5" stroke="#cd0519" stroke-opacity="0.52"/>
<path d="M50.7,192.5 115.9,192.5 116.1,184.4 116.9,180.8 117.6,175.7 118.2,170.5 118.8,163.9 119.7,149.2 121.0,123.6 121.4,117.3 121.8,112.8 122.0,111.3 122.2,110.6 122.4,110.5 122.5,111.1 122.7,112.2 122.9,114.0 123.3,118.9 125.0,149.4 125.8,160.9 126.5,169.8 127.3,176.3 127.8,180.0 128.4,182.9 129.0,185.1 129.7,187.3 130.5,188.8 130.9,189.4 131.4,190.1 132.4,190.9 133.5,191.5 134.8,191.9 136.5,192.2 138.8,192.3 141.6,192.3 146.9,192.0 149.6,191.7 154.7,191.0 156.0,190.9 157.3,190.9 159.4,191.0 164.5,191.7 167.5,192.0 171.3,192.2 174.7,192.3 177.0,192.2 178.7,191.9 180.2,191.5 181.3,190.8 182.1,190.2 182.7,189.6 183.2,188.7 183.8,187.6 184.4,186.3 184.7,185.1 185.5,182.3 186.3,178.4 187.0,173.3 188.7,158.4 189.3,154.1 189.7,152.1 189.8,151.5 190.0,151.2 190.2,151.2 190.4,151.5 190.6,152.1 191.0,154.0 191.5,158.2 192.7,168.5 193.4,174.5 194.2,179.4 194.6,181.3 195.1,183.8 195.7,185.7 196.3,187.2 196.8,188.4 197.4,189.3 198.2,190.2 198.9,190.9 199.9,191.4 200.8,191.8 201.9,192.1 203.5,192.3 205.3,192.4 207.8,192.5 247.7,192.5 251.5,192.3 253.9,192.1 255.8,191.6 256.6,191.3 257.3,190.9 258.1,190.4 258.9,189.7 259.6,188.8 260.2,187.9 260.7,186.8 261.3,185.4 262.3,182.4 263.2,178.3 264.0,174.0 264.7,168.7 266.0,158.6 266.6,154.9 267.2,152.4 267.4,152.0 267.6,151.7 267.7,151.7 267.9,151.9 268.3,152.8 268.9,155.6 271.3,173.5 272.1,177.9 272.8,181.4 273.8,184.7 274.7,187.1 275.3,188.1 275.9,189.0 276.4,189.7 277.2,190.4 278.1,191.0 279.3,191.5 280.4,191.9 281.9,192.2 283.6,192.3 285.9,192.4 293.3,192.5 302.5,192.4 305.4,192.3 307.6,192.1 309.5,191.9 311.2,191.6 312.5,191.2 315.4,190.4" stroke="#000000" stroke-opacity="0.58"/>
</g>
<line x1="116.09" y1="31.5" x2="116.09" y2="192.5" stroke="#8c8c8c" stroke-width="1.3"/>
<g font-family='"Liberation Sans", Arial, sans-serif' font-size="13" fill="#1a1a1a" stroke="#1a1a1a" stroke-width="0.3">
<text x="50.5" y="36.50" text-anchor="end">100.</text>
<text x="50.5" y="76.75" text-anchor="end">75.</text>
<text x="50.5" y="117.00" text-anchor="end">50.</text>
<text x="50.5" y="157.25" text-anchor="end">25.</text>
<text x="50.5" y="197.50" text-anchor="end">0.</text>
<text x="316.5" y="197.20">0</text>
<text x="316.5" y="170.37">0.1</text>
<text x="316.5" y="143.53">0.2</text>
<text x="316.5" y="116.70">0.3</text>
<text x="316.5" y="89.87">0.4</text>
<text x="316.5" y="63.03">0.5</text>
<text x="316.5" y="36.20">0.6</text>
<text x="71.20" y="206.7" text-anchor="middle">'19</text>
<text x="108.48" y="206.7" text-anchor="middle">'20</text>
<text x="145.76" y="206.7" text-anchor="middle">'21</text>
<text x="183.04" y="206.7" text-anchor="middle">'22</text>
<text x="220.32" y="206.7" text-anchor="middle">'23</text>
<text x="257.60" y="206.7" text-anchor="middle">'24</text>
<text x="294.88" y="206.7" text-anchor="middle">'25</text>
<text x="183.6" y="225.40" text-anchor="middle">Year</text>
<text transform="translate(17.5,112.0) rotate(-90)" text-anchor="middle" font-size="13.15">Prevalence per 1000 people</text>
<text transform="translate(350.5,111.8) rotate(-90)" text-anchor="middle">%Positive × %ILI</text>
</g>
</g>
<text x="9.8" y="266.7" font-family='"Liberation Serif", "Times New Roman", serif' font-size="17.6" fill="#1a1a1a" letter-spacing="0.2">C)</text>
<g transform="translate(350.1,269.6) translate(52.5,0) scale(0.996,1) translate(-52.5,0)">
<clipPath id="clipD"><rect x="52.5" y="31.5" width="261.25" height="161.0"/></clipPath>
<line x1="71.20" y1="31.5" x2="71.20" y2="192.5" stroke="#f1f1f1" stroke-width="1"/>
<line x1="108.48" y1="31.5" x2="108.48" y2="192.5" stroke="#f1f1f1" stroke-width="1"/>
<line x1="145.76" y1="31.5" x2="145.76" y2="192.5" stroke="#f1f1f1" stroke-width="1"/>
<line x1="183.04" y1="31.5" x2="183.04" y2="192.5" stroke="#f1f1f1" stroke-width="1"/>
<line x1="220.32" y1="31.5" x2="220.32" y2="192.5" stroke="#f1f1f1" stroke-width="1"/>
<line x1="257.60" y1="31.5" x2="257.60" y2="192.5" stroke="#f1f1f1" stroke-width="1"/>
<line x1="294.88" y1="31.5" x2="294.88" y2="192.5" stroke="#f1f1f1" stroke-width="1"/>
<line x1="52.5" y1="31.5" x2="52.5" y2="192.5" stroke="#c2c2c2" stroke-width="1"/>
<line x1="313.75" y1="31.5" x2="313.75" y2="192.5" stroke="#c2c2c2" stroke-width="1"/>
<line x1="52.5" y1="192.50" x2="56.0" y2="192.50" stroke="#c2c2c2" stroke-width="1"/>
<line x1="52.5" y1="152.25" x2="56.0" y2="152.25" stroke="#c2c2c2" stroke-width="1"/>
<line x1="52.5" y1="112.00" x2="56.0" y2="112.00" stroke="#c2c2c2" stroke-width="1"/>
<line x1="52.5" y1="71.75" x2="56.0" y2="71.75" stroke="#c2c2c2" stroke-width="1"/>
<line x1="52.5" y1="31.50" x2="56.0" y2="31.50" stroke="#c2c2c2" stroke-width="1"/>
<line x1="311.25" y1="192.50" x2="313.75" y2="192.50" stroke="#dedede" stroke-width="1"/>
<line x1="311.25" y1="165.67" x2="313.75" y2="165.67" stroke="#dedede" stroke-width="1"/>
<line x1="311.25" y1="138.83" x2="313.75" y2="138.83" stroke="#dedede" stroke-width="1"/>
<line x1="311.25" y1="112.00" x2="313.75" y2="112.00" stroke="#dedede" stroke-width="1"/>
<line x1="311.25" y1="85.17" x2="313.75" y2="85.17" stroke="#dedede" stroke-width="1"/>
<line x1="311.25" y1="58.33" x2="313.75" y2="58.33" stroke="#dedede" stroke-width="1"/>
<line x1="311.25" y1="31.50" x2="313.75" y2="31.50" stroke="#dedede" stroke-width="1"/>
<line x1="71.20" y1="192.5" x2="71.20" y2="189.0" stroke="#c2c2c2" stroke-width="1"/>
<line x1="108.48" y1="192.5" x2="108.48" y2="189.0" stroke="#c2c2c2" stroke-width="1"/>
<line x1="145.76" y1="192.5" x2="145.76" y2="189.0" stroke="#c2c2c2" stroke-width="1"/>
<line x1="183.04" y1="192.5" x2="183.04" y2="189.0" stroke="#c2c2c2" stroke-width="1"/>
<line x1="220.32" y1="192.5" x2="220.32" y2="189.0" stroke="#c2c2c2" stroke-width="1"/>
<line x1="257.60" y1="192.5" x2="257.60" y2="189.0" stroke="#c2c2c2" stroke-width="1"/>
<line x1="294.88" y1="192.5" x2="294.88" y2="189.0" stroke="#c2c2c2" stroke-width="1"/>
<g clip-path="url(#clipD)" fill="none" stroke-width="2.5" stroke-linejoin="round" stroke-linecap="butt">
<path d="M50.7,190.9 59.8,190.7 61.5,190.6 62.8,190.4 63.9,189.9 64.5,189.5 65.1,189.0 65.6,188.3 66.0,187.8 66.8,186.3 67.5,184.3 68.3,181.6 69.0,177.9 69.6,174.5 70.2,170.3 70.7,165.4 72.4,147.9 73.0,142.6 73.6,139.0 73.8,138.3 74.0,137.9 74.1,137.8 74.3,138.0 74.7,139.0 75.3,142.0 76.0,147.9 77.7,163.5 78.5,169.4 79.1,173.2 79.6,176.5 80.2,179.2 80.8,181.5 81.3,183.4 82.1,185.5 82.8,187.1 83.8,188.6 84.7,189.7 85.9,190.6 87.0,191.2 88.5,191.7 89.6,192.0 90.8,192.1 93.6,192.3 97.0,192.3 98.5,192.2 99.7,192.1 101.4,191.6 102.7,191.0 103.3,190.6 103.8,190.1 104.8,189.0 105.5,187.7 106.3,186.0 107.0,183.7 107.6,181.5 108.2,178.8 108.7,175.7 110.8,162.2 111.4,159.9 111.6,159.4 111.8,159.2 112.0,159.1 112.1,159.2 112.5,159.7 112.9,160.7 113.3,162.0 113.8,164.5 115.5,173.2 116.3,176.8 117.1,179.8 118.0,182.9 118.9,185.3 119.5,186.5 120.1,187.5 120.6,188.3 121.4,189.2 122.0,189.7 122.7,190.3 123.5,190.8 124.2,191.1 125.2,191.5 126.1,191.7 128.4,192.1 131.4,192.4 139.6,192.5 172.5,192.5 172.6,202.2 315.4,202.2" stroke="#1600b2" stroke-opacity="0.555"/>
<path d="M50.7,192.5 56.9,192.4 61.5,192.2 65.1,191.9 70.7,191.3 73.0,191.2 75.3,191.3 81.1,191.9 85.1,192.2 90.6,192.4 95.5,192.4 97.8,192.2 99.5,191.9 100.2,191.7 101.0,191.4 102.1,190.7 102.9,190.0 103.4,189.3 104.0,188.4 104.6,187.2 105.1,185.7 105.5,184.4 106.1,182.1 106.5,180.3 107.2,175.6 107.8,171.2 110.1,149.1 110.4,146.6 110.6,145.8 110.8,145.3 111.0,145.1 111.2,145.2 111.4,145.6 111.6,146.2 112.0,148.1 112.5,152.4 114.0,166.1 114.8,172.1 115.7,178.1 116.7,182.5 117.2,184.4 117.8,186.0 118.6,187.7 119.3,188.9 120.3,190.0 121.2,190.8 122.4,191.4 123.5,191.8 124.8,192.1 126.3,192.3 128.4,192.4 131.0,192.5 172.5,192.5 172.6,202.2 315.4,202.2" stroke="#cd0519" stroke-opacity="0.52"/>
<path d="M50.7,192.5 115.9,192.5 116.1,191.4 116.5,190.6 116.9,189.3 117.4,185.9 118.0,180.0 118.4,174.1 118.8,166.6 119.3,151.7 121.2,88.8 121.6,80.0 121.8,76.9 122.0,74.8 122.2,73.6 122.4,73.5 122.5,74.1 122.9,77.0 123.3,82.2 123.7,89.4 124.2,102.9 125.9,148.2 126.7,164.2 127.3,173.4 127.6,178.2 128.0,182.0 128.4,184.9 128.8,187.2 129.2,188.8 129.7,190.5 130.3,191.4 130.9,192.0 131.4,192.2 132.0,192.4 133.7,192.5 172.5,192.5 172.6,202.2 315.4,202.2" stroke="#000000" stroke-opacity="0.58"/>
<line x1="175.0" y1="191.8" x2="186.4" y2="191.8" stroke="#262230" stroke-width="1.4"/>
<line x1="187.2" y1="191.8" x2="196.6" y2="191.8" stroke="#262230" stroke-width="1.4"/>
<line x1="201.4" y1="191.8" x2="215.9" y2="191.8" stroke="#2a2630" stroke-width="1.4"/>
<line x1="215.9" y1="191.8" x2="225.1" y2="191.8" stroke="#6a6670" stroke-width="1.4"/>
<line x1="226.4" y1="191.8" x2="229.4" y2="191.8" stroke="#2e2a36" stroke-width="1.4"/>
<line x1="229.4" y1="191.8" x2="238.6" y2="191.8" stroke="#d8d8d8" stroke-width="1.4"/>
<line x1="239.5" y1="191.8" x2="250.6" y2="191.8" stroke="#2e2a36" stroke-width="1.4"/>
<line x1="252.2" y1="191.8" x2="266.5" y2="191.8" stroke="#2e2a36" stroke-width="1.4"/>
<line x1="268.5" y1="191.8" x2="274.4" y2="191.8" stroke="#2e2a36" stroke-width="1.4"/>
<line x1="274.4" y1="191.8" x2="292.2" y2="191.8" stroke="#4a1e30" stroke-width="1.4"/>
<line x1="292.2" y1="191.8" x2="314.4" y2="191.8" stroke="#262230" stroke-width="1.4"/>
</g>
<line x1="116.09" y1="31.5" x2="116.09" y2="192.5" stroke="#8c8c8c" stroke-width="1.6"/>
<g font-family='"Liberation Sans", Arial, sans-serif' font-size="13" fill="#1a1a1a" stroke="#1a1a1a" stroke-width="0.3">
<text x="50.5" y="36.50" text-anchor="end">100.</text>
<text x="50.5" y="76.75" text-anchor="end">75.</text>
<text x="50.5" y="117.00" text-anchor="end">50.</text>
<text x="50.5" y="157.25" text-anchor="end">25.</text>
<text x="50.5" y="197.50" text-anchor="end">0.</text>
<text x="316.5" y="197.20">0</text>
<text x="316.5" y="170.37">0.1</text>
<text x="316.5" y="143.53">0.2</text>
<text x="316.5" y="116.70">0.3</text>
<text x="316.5" y="89.87">0.4</text>
<text x="316.5" y="63.03">0.5</text>
<text x="316.5" y="36.20">0.6</text>
<text x="71.20" y="206.7" text-anchor="middle">'19</text>
<text x="108.48" y="206.7" text-anchor="middle">'20</text>
<text x="145.76" y="206.7" text-anchor="middle">'21</text>
<text x="183.04" y="206.7" text-anchor="middle">'22</text>
<text x="220.32" y="206.7" text-anchor="middle">'23</text>
<text x="257.60" y="206.7" text-anchor="middle">'24</text>
<text x="294.88" y="206.7" text-anchor="middle">'25</text>
<text x="183.6" y="225.40" text-anchor="middle">Year</text>
<text transform="translate(17.5,112.0) rotate(-90)" text-anchor="middle" font-size="13.15">Prevalence per 1000 people</text>
<text transform="translate(350.5,111.8) rotate(-90)" text-anchor="middle">%Positive × %ILI</text>
</g>
</g>
<text x="389.2" y="266.7" font-family='"Liberation Serif", "Times New Roman", serif' font-size="17.6" fill="#1a1a1a" letter-spacing="0.2">D)</text>
<g transform="translate(175.0,518.0)">
<clipPath id="clipE"><rect x="52.5" y="31.5" width="261.25" height="161.0"/></clipPath>
<line x1="71.20" y1="31.5" x2="71.20" y2="192.5" stroke="#f1f1f1" stroke-width="1"/>
<line x1="108.48" y1="31.5" x2="108.48" y2="192.5" stroke="#f1f1f1" stroke-width="1"/>
<line x1="145.76" y1="31.5" x2="145.76" y2="192.5" stroke="#f1f1f1" stroke-width="1"/>
<line x1="183.04" y1="31.5" x2="183.04" y2="192.5" stroke="#f1f1f1" stroke-width="1"/>
<line x1="220.32" y1="31.5" x2="220.32" y2="192.5" stroke="#f1f1f1" stroke-width="1"/>
<line x1="257.60" y1="31.5" x2="257.60" y2="192.5" stroke="#f1f1f1" stroke-width="1"/>
<line x1="294.88" y1="31.5" x2="294.88" y2="192.5" stroke="#f1f1f1" stroke-width="1"/>
<line x1="52.5" y1="31.5" x2="52.5" y2="192.5" stroke="#c2c2c2" stroke-width="1"/>
<line x1="313.75" y1="31.5" x2="313.75" y2="192.5" stroke="#c2c2c2" stroke-width="1"/>
<line x1="52.5" y1="192.50" x2="56.0" y2="192.50" stroke="#c2c2c2" stroke-width="1"/>
<line x1="52.5" y1="152.25" x2="56.0" y2="152.25" stroke="#c2c2c2" stroke-width="1"/>
<line x1="52.5" y1="112.00" x2="56.0" y2="112.00" stroke="#c2c2c2" stroke-width="1"/>
<line x1="52.5" y1="71.75" x2="56.0" y2="71.75" stroke="#c2c2c2" stroke-width="1"/>
<line x1="52.5" y1="31.50" x2="56.0" y2="31.50" stroke="#c2c2c2" stroke-width="1"/>
<line x1="311.25" y1="192.50" x2="313.75" y2="192.50" stroke="#dedede" stroke-width="1"/>
<line x1="311.25" y1="165.67" x2="313.75" y2="165.67" stroke="#dedede" stroke-width="1"/>
<line x1="311.25" y1="138.83" x2="313.75" y2="138.83" stroke="#dedede" stroke-width="1"/>
<line x1="311.25" y1="112.00" x2="313.75" y2="112.00" stroke="#dedede" stroke-width="1"/>
<line x1="311.25" y1="85.17" x2="313.75" y2="85.17" stroke="#dedede" stroke-width="1"/>
<line x1="311.25" y1="58.33" x2="313.75" y2="58.33" stroke="#dedede" stroke-width="1"/>
<line x1="311.25" y1="31.50" x2="313.75" y2="31.50" stroke="#dedede" stroke-width="1"/>
<line x1="71.20" y1="192.5" x2="71.20" y2="189.0" stroke="#c2c2c2" stroke-width="1"/>
<line x1="108.48" y1="192.5" x2="108.48" y2="189.0" stroke="#c2c2c2" stroke-width="1"/>
<line x1="145.76" y1="192.5" x2="145.76" y2="189.0" stroke="#c2c2c2" stroke-width="1"/>
<line x1="183.04" y1="192.5" x2="183.04" y2="189.0" stroke="#c2c2c2" stroke-width="1"/>
<line x1="220.32" y1="192.5" x2="220.32" y2="189.0" stroke="#c2c2c2" stroke-width="1"/>
<line x1="257.60" y1="192.5" x2="257.60" y2="189.0" stroke="#c2c2c2" stroke-width="1"/>
<line x1="294.88" y1="192.5" x2="294.88" y2="189.0" stroke="#c2c2c2" stroke-width="1"/>
<g clip-path="url(#clipE)" fill="none" stroke-width="2.5" stroke-linejoin="round" stroke-linecap="butt">
<path d="M50.7,190.9 59.8,190.8 61.5,190.6 62.8,190.4 63.9,189.9 64.5,189.6 65.1,189.0 65.6,188.4 66.0,187.8 66.8,186.3 67.5,184.3 68.3,181.6 69.0,178.0 69.6,174.6 70.2,170.5 70.7,165.6 72.4,148.1 73.0,142.9 73.6,139.3 73.8,138.7 74.0,138.3 74.1,138.2 74.3,138.3 74.7,139.3 75.3,142.3 76.0,148.2 77.7,163.6 78.5,169.5 79.1,173.3 79.6,176.5 80.2,179.3 80.8,181.6 81.5,184.0 82.3,186.0 83.0,187.4 84.0,188.8 85.1,190.0 86.2,190.8 87.6,191.4 89.1,191.9 91.3,192.2 94.4,192.3 97.4,192.3 99.9,192.0 101.4,191.6 102.7,191.0 103.3,190.6 103.8,190.1 104.8,189.0 105.5,187.7 106.3,186.0 107.0,183.7 107.6,181.5 108.2,178.8 108.7,175.7 110.8,162.2 111.4,159.9 111.6,159.4 111.8,159.2 112.0,159.1 112.1,159.2 112.5,159.7 112.9,160.7 113.3,162.0 113.8,164.5 115.5,173.2 116.3,176.8 117.2,180.5 118.2,183.5 118.8,184.9 119.3,186.1 119.9,187.2 120.6,188.3 121.2,189.0 122.0,189.7 122.7,190.3 123.7,190.9 124.6,191.3 125.8,191.6 127.1,191.9 128.6,192.1 130.3,192.3 132.4,192.3 134.5,192.3 136.3,192.2 138.8,191.9 139.9,191.6 140.9,191.3 141.8,190.9 142.6,190.5 143.3,189.9 144.1,189.2 145.2,187.8 146.2,186.2 147.1,184.1 147.9,181.9 148.6,179.3 149.4,176.2 151.5,165.8 152.2,162.4 152.6,161.1 153.0,160.2 153.4,159.7 153.5,159.6 153.7,159.6 153.9,159.8 154.3,160.4 154.7,161.4 155.1,162.8 155.6,165.4 157.7,175.8 158.5,179.0 159.0,181.0 159.8,183.4 160.5,185.2 161.3,186.8 162.1,188.0 163.2,189.3 164.3,190.2 165.6,191.0 166.4,191.3 167.3,191.6 169.4,191.9 171.9,192.0 174.2,191.8 175.1,191.6 176.0,191.3 177.0,190.9 177.9,190.4 178.9,189.7 179.6,188.9 180.4,187.9 181.0,187.1 181.7,185.6 182.3,184.3 182.9,182.8 183.4,181.0 184.4,177.3 185.3,172.9 187.0,163.8 187.8,160.4 188.1,159.2 188.5,158.4 188.7,158.1 188.9,158.0 189.1,158.0 189.3,158.1 189.7,158.7 190.0,159.7 190.4,161.1 191.2,164.7 193.1,174.7 193.8,178.1 194.6,180.9 195.3,183.3 196.1,185.2 196.8,186.7 197.6,187.9 198.7,189.3 199.3,189.8 200.1,190.4 201.4,191.1 203.1,191.6 204.2,191.9 205.3,192.0 208.0,192.1 210.5,191.9 211.6,191.7 212.5,191.4 213.7,191.0 214.8,190.4 215.7,189.7 216.7,188.7 217.6,187.5 218.4,186.1 219.2,184.4 219.7,182.9 220.3,181.0 220.9,178.9 222.0,173.5 222.9,168.0 224.6,156.5 225.4,152.2 225.8,150.6 226.1,149.5 226.3,149.2 226.5,149.0 226.7,149.0 226.9,149.1 227.3,149.8 227.7,151.0 228.0,152.8 228.6,156.0 230.3,167.5 231.1,172.1 232.0,176.9 232.6,179.3 233.1,181.4 233.7,183.2 234.5,185.1 235.0,186.3 235.8,187.6 236.5,188.6 237.5,189.6 238.4,190.4 239.4,190.9 240.3,191.3 241.3,191.6 242.4,191.8 243.7,192.0 245.1,192.0 246.6,192.0 247.9,191.8 249.0,191.6 250.0,191.4 250.9,191.0 251.7,190.6 252.4,190.1 253.2,189.5 253.7,188.9 254.3,188.2 254.9,187.4 255.8,185.7 256.6,183.9 257.3,181.7 258.1,178.9 258.7,176.5 259.4,172.7 261.5,160.2 262.1,157.1 262.4,155.5 262.8,154.2 263.2,153.4 263.4,153.2 263.6,153.1 263.8,153.2 264.1,153.8 264.5,154.9 264.9,156.4 265.7,160.4 267.7,172.8 268.5,176.6 269.3,179.8 270.0,182.4 271.0,184.9 271.9,186.9 272.8,188.3 273.4,189.0 274.2,189.7 274.9,190.3 275.9,190.9 276.8,191.3 277.8,191.6 278.9,191.8 280.0,192.0 281.7,192.2 283.6,192.2 285.3,192.1 287.0,192.0 288.3,191.8 289.5,191.5 290.6,191.0 291.6,190.5 292.5,189.8 293.3,189.1 294.0,188.2 294.6,187.4 295.3,186.0 295.9,184.8 296.5,183.3 297.0,181.5 298.0,177.9 298.9,173.4 299.9,167.8 301.4,158.0 302.1,153.7 302.5,152.1 302.9,151.0 303.1,150.7 303.3,150.5 303.5,150.4 303.7,150.5 304.0,151.1 304.4,152.3 304.8,153.9 305.4,157.0 307.1,168.1 308.0,173.6 309.0,178.1 309.9,181.7 310.5,183.4 311.0,184.9 311.6,186.1 312.4,187.4 312.9,188.3 313.7,189.2 314.4,189.9 315.4,190.5" stroke="#1600b2" stroke-opacity="0.555"/>
<path d="M50.7,192.5 56.9,192.4 61.5,192.2 65.1,191.9 70.7,191.3 73.0,191.2 75.3,191.3 81.1,191.9 85.1,192.2 90.8,192.4 95.7,192.4 98.0,192.2 99.7,191.9 100.4,191.7 101.2,191.4 102.3,190.7 103.1,190.0 103.6,189.2 104.2,188.3 104.8,187.1 105.3,185.5 105.7,184.3 106.5,181.0 107.2,176.7 108.0,170.9 108.5,165.6 109.7,153.9 110.3,148.8 110.6,146.4 110.8,145.6 111.0,145.2 111.2,145.1 111.4,145.3 111.6,145.7 111.8,146.4 112.1,148.4 112.7,152.7 114.2,166.4 115.0,172.4 115.9,178.3 116.5,181.1 117.1,183.3 117.6,185.1 118.4,187.0 119.1,188.4 119.9,189.5 120.8,190.4 121.8,191.1 122.9,191.6 124.1,191.9 126.1,192.2 129.2,192.4 134.3,192.4 139.7,192.3 142.6,192.2 145.0,192.0 147.3,191.7 151.3,191.0 153.4,190.9 155.1,191.0 159.4,191.7 162.1,192.1 165.5,192.3 169.2,192.3 171.9,192.2 174.0,192.0 175.7,191.7 177.2,191.2 178.1,190.8 178.9,190.4 179.6,189.8 180.2,189.3 181.0,188.4 181.5,187.6 182.1,186.7 182.7,185.6 183.6,183.3 184.6,180.5 185.5,177.0 187.0,170.9 187.8,168.4 188.1,167.4 188.5,166.8 188.9,166.5 189.1,166.5 189.3,166.6 189.7,167.0 190.0,167.8 190.4,168.9 191.0,170.8 192.7,177.7 193.4,180.4 194.4,183.3 195.3,185.6 195.9,186.7 196.5,187.6 197.6,189.1 198.2,189.6 198.9,190.2 199.7,190.7 200.6,191.2 202.3,191.7 204.6,192.1 207.2,192.3 210.3,192.2 212.7,192.0 214.6,191.7 216.3,191.1 217.6,190.4 218.6,189.6 219.5,188.7 220.3,187.6 221.0,186.4 221.8,184.9 222.6,183.1 224.6,177.3 225.2,175.9 225.6,175.1 226.0,174.5 226.3,174.2 226.7,174.1 226.9,174.1 227.3,174.4 227.7,174.9 228.0,175.7 228.8,177.6 230.7,182.9 231.4,184.7 232.0,185.9 232.8,187.2 233.5,188.3 234.3,189.2 235.0,189.9 236.2,190.7 237.3,191.2 238.6,191.6 240.3,192.0 242.4,192.2 244.7,192.2 246.9,192.1 248.8,191.8 250.0,191.6 251.1,191.2 252.0,190.8 253.0,190.2 253.9,189.4 254.7,188.5 255.5,187.5 256.0,186.5 256.6,185.4 257.2,184.0 258.3,180.7 259.2,177.3 260.9,170.5 261.5,168.6 261.9,167.6 262.3,166.9 262.6,166.5 262.8,166.5 263.0,166.5 263.4,166.9 263.8,167.6 264.1,168.6 264.9,171.3 266.4,177.4 267.2,180.1 268.1,183.1 269.1,185.4 269.6,186.5 270.2,187.5 271.3,189.0 271.9,189.5 272.7,190.2 274.0,191.0 275.5,191.5 277.4,192.0 279.7,192.2 282.5,192.4 286.5,192.4 289.7,192.2 292.1,191.9 294.0,191.4 295.2,191.0 296.1,190.5 297.0,189.8 298.0,188.9 298.7,188.0 299.5,186.9 301.8,182.9 302.5,181.7 302.9,181.3 303.3,181.0 303.9,180.8 304.4,181.0 304.8,181.4 305.2,181.8 305.7,182.7 308.2,187.0 309.1,188.3 310.1,189.3 311.2,190.3 312.4,190.9 313.7,191.5 315.4,191.9" stroke="#cd0519" stroke-opacity="0.52"/>
<path d="M50.7,192.5 115.9,192.5 116.1,190.7 117.2,189.8 118.2,188.6 119.1,187.0 119.9,185.2 120.5,183.6 121.0,181.7 123.3,172.7 123.9,171.2 124.2,170.6 124.4,170.5 124.8,170.5 125.4,170.8 125.9,171.4 126.5,172.2 127.5,174.0 129.9,179.4 131.0,181.6 132.4,183.9 133.5,185.4 134.1,186.0 134.8,186.7 135.6,187.3 136.2,187.6 136.9,187.8 137.5,188.0 138.2,187.9 138.8,187.8 139.4,187.6 139.9,187.2 140.5,186.7 141.1,186.0 141.6,185.1 142.2,184.0 143.1,181.5 143.9,178.9 144.7,175.8 145.4,172.0 146.9,163.9 147.5,161.3 148.1,159.4 148.4,158.8 148.6,158.7 148.8,158.7 149.0,158.8 149.2,159.1 149.4,159.5 149.8,160.8 150.3,163.5 152.0,173.5 153.0,178.3 153.9,182.1 154.5,184.0 155.1,185.5 155.6,186.7 156.4,188.1 157.1,189.1 157.9,189.9 158.8,190.7 159.8,191.2 160.9,191.6 162.2,191.9 163.9,192.2 165.8,192.3 171.7,192.5 240.5,192.5 246.4,192.4 250.0,192.3 252.6,192.1 254.7,191.7 255.8,191.3 256.8,190.9 257.7,190.3 258.5,189.7 259.2,189.0 260.0,188.0 260.7,186.9 261.3,185.8 261.9,184.5 262.4,183.0 263.4,180.0 264.3,176.4 266.0,168.9 266.8,166.1 267.2,165.1 267.6,164.4 267.9,164.1 268.1,164.1 268.3,164.2 268.7,164.7 269.1,165.5 269.4,166.7 270.0,168.8 271.7,176.3 272.5,179.3 273.2,181.8 274.2,184.5 275.1,186.5 275.7,187.4 276.2,188.3 276.8,188.9 277.6,189.7 278.9,190.7 280.2,191.3 281.5,191.7 283.1,192.0 284.9,192.2 287.6,192.3 290.6,192.3 293.1,192.2 295.2,191.9 296.3,191.6 297.2,191.4 298.2,191.0 299.1,190.5 299.9,190.0 300.6,189.4 302.9,187.1 303.7,186.5 304.4,186.1 305.0,186.0 305.6,186.1 306.3,186.5 307.1,187.2 309.1,189.3 309.9,189.9 310.8,190.5 311.8,191.0 312.9,191.5 314.1,191.8 315.4,192.0" stroke="#000000" stroke-opacity="0.58"/>
</g>
<line x1="116.09" y1="31.5" x2="116.09" y2="192.5" stroke="#8c8c8c" stroke-width="1.45"/>
<g font-family='"Liberation Sans", Arial, sans-serif' font-size="13" fill="#1a1a1a" stroke="#1a1a1a" stroke-width="0.3">
<text x="50.5" y="35.90" text-anchor="end">100.</text>
<text x="50.5" y="76.15" text-anchor="end">75.</text>
<text x="50.5" y="116.40" text-anchor="end">50.</text>
<text x="50.5" y="156.65" text-anchor="end">25.</text>
<text x="50.5" y="196.90" text-anchor="end">0.</text>
<text x="316.5" y="196.60">0</text>
<text x="316.5" y="169.77">0.1</text>
<text x="316.5" y="142.93">0.2</text>
<text x="316.5" y="116.10">0.3</text>
<text x="316.5" y="89.27">0.4</text>
<text x="316.5" y="62.43">0.5</text>
<text x="316.5" y="35.60">0.6</text>
<text x="71.20" y="206.7" text-anchor="middle">'19</text>
<text x="108.48" y="206.7" text-anchor="middle">'20</text>
<text x="145.76" y="206.7" text-anchor="middle">'21</text>
<text x="183.04" y="206.7" text-anchor="middle">'22</text>
<text x="220.32" y="206.7" text-anchor="middle">'23</text>
<text x="257.60" y="206.7" text-anchor="middle">'24</text>
<text x="294.88" y="206.7" text-anchor="middle">'25</text>
<text x="183.6" y="226.00" text-anchor="middle">Year</text>
<text transform="translate(17.5,112.0) rotate(-90)" text-anchor="middle" font-size="13.15">Prevalence per 1000 people</text>
<text transform="translate(350.5,111.8) rotate(-90)" text-anchor="middle">%Positive × %ILI</text>
</g>
</g>
<text x="210.8" y="536.0" font-family='"Liberation Serif", "Times New Roman", serif' font-size="17.6" fill="#1a1a1a" letter-spacing="0.2">E)</text>
<line x1="295.0" y1="764.7" x2="318.7" y2="764.7" stroke="#1600b2" stroke-opacity="0.555" stroke-width="2.6"/>
<text x="326.7" y="768.8" font-family='"Liberation Sans", Arial, sans-serif' font-size="15" fill="#1a1a1a" stroke="#1a1a1a" stroke-width="0.3">OC43</text>
<line x1="295.0" y1="789.9" x2="318.7" y2="789.9" stroke="#cd0519" stroke-opacity="0.52" stroke-width="2.6"/>
<text x="326.7" y="794.0" font-family='"Liberation Sans", Arial, sans-serif' font-size="15" fill="#1a1a1a" stroke="#1a1a1a" stroke-width="0.3">HKU1</text>
<line x1="295.0" y1="814.7" x2="318.7" y2="814.7" stroke="#000000" stroke-opacity="0.58" stroke-width="2.6"/>
<text x="326.7" y="819.4" font-family='"Liberation Sans", Arial, sans-serif' font-size="15" fill="#1a1a1a" stroke="#1a1a1a" stroke-width="0.3">SARS−CoV−2</text>
</svg>
</body></html>
